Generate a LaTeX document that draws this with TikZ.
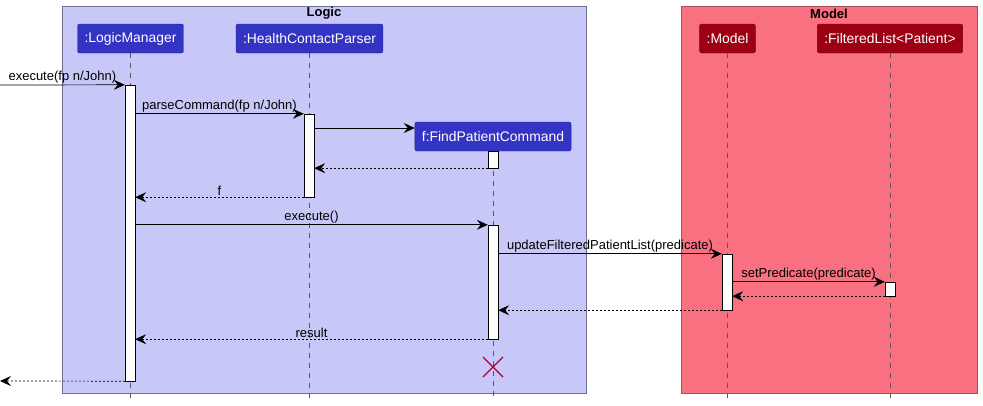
\documentclass[tikz,border=0pt]{standalone}
\usepackage{fontspec}
\setmainfont{Liberation Sans}
\usetikzlibrary{arrows.meta}

\definecolor{logicbg}{HTML}{C8C8F8}
\definecolor{logicline}{HTML}{6E6E8E}
\definecolor{modelbg}{HTML}{F97181}
\definecolor{modelline}{HTML}{A84E5A}
\definecolor{partblue}{HTML}{3333C4}
\definecolor{partred}{HTML}{9D0012}
\definecolor{crossred}{HTML}{A80036}

\tikzset{
    part/.style={rectangle, rounded corners=2pt, text=white, inner xsep=7pt,
        minimum height=29pt, font=\fontsize{13.9}{15}\selectfont},
    logicpart/.style={part, fill=partblue, draw=partblue!80!black},
    modelpart/.style={part, fill=partred, draw=partred!80!black},
    act/.style={rectangle, draw=black, fill=white, minimum width=10pt, inner sep=0pt},
    lifeline/.style={gray!70!black, dash pattern=on 5pt off 5pt},
    msg/.style={-{Stealth[length=11pt, width=10pt, inset=4pt]}, line width=0.7pt},
    ret/.style={msg, dash pattern=on 2pt off 2pt},
    lbl/.style={above, inner sep=1.5pt, font=\fontsize{13}{14}\selectfont}
}

\begin{document}
\begin{tikzpicture}[x=1pt, y=-1pt]
    \useasboundingbox (0, 0) rectangle (983, 405);

    % boxes
    \filldraw[fill=logicbg, draw=logicline] (62, 6) rectangle (586, 393);
    \filldraw[fill=modelbg, draw=modelline] (681, 6) rectangle (977, 393);
    \node[font=\bfseries\fontsize{13}{14}\selectfont] (logictitle) at (324, 13.5) {Logic};
    \node[font=\bfseries\fontsize{13}{14}\selectfont] (modeltitle) at (829, 13.5) {Model};

    % participants
    \node[logicpart] (lm) at (130.5, 38.5) {:LogicManager};
    \node[logicpart] (hcp) at (309.5, 38.5) {:HealthContactParser};
    \node[logicpart] (fpc) at (493, 136.5) {f:FindPatientCommand};
    \node[modelpart] (m) at (727.5, 38.5) {:Model};
    \node[modelpart] (fl) at (890, 38.5) {:FilteredList<Patient>};

    % lifelines
    \draw[lifeline] (lm.south) -- (lm.south |- 0, 400);
    \draw[lifeline] (hcp.south) -- (hcp.south |- 0, 400);
    \draw[lifeline] (fpc.south) -- (fpc.south |- 0, 400);
    \draw[lifeline] (m.south) -- (m.south |- 0, 400);
    \draw[lifeline] (fl.south) -- (fl.south |- 0, 400);

    % activations
    \node[act, minimum height=296pt] (actlm) at (130, 233) {};
    \node[act, minimum height=83pt] (acthcp) at (309, 155.5) {};
    \node[act, minimum height=17pt] (actfpca) at (493, 159.5) {};
    \node[act, minimum height=114pt] (actfpcb) at (493, 282) {};
    \node[act, minimum height=56pt] (actm) at (727, 282) {};
    \node[act, minimum height=14pt] (actfl) at (890, 289) {};

    \coordinate (in) at (0, 85);
    \coordinate (out) at (0, 381);

    % messages
    \draw[msg] (in) -- (actlm.north west) node[lbl, midway] {execute(fp n/John)};
    \draw[msg] (actlm.east |- acthcp.north) -- (acthcp.north west)
        node[lbl, midway] {parseCommand(fp n/John)};
    \draw[msg] (acthcp.east |- 0, 128) -- (fpc.west |- 0, 128);
    \draw[ret] (actfpca.south west) -- (acthcp.east |- actfpca.south);
    \draw[ret] (acthcp.south west) -- (actlm.east |- acthcp.south) node[lbl, midway] {f};
    \draw[msg] (actlm.east |- actfpcb.north) -- (actfpcb.north west) node[lbl, midway] {execute()};
    \draw[msg] (actfpcb.east |- actm.north) -- (actm.north west)
        node[lbl, midway] {updateFilteredPatientList(predicate)};
    \draw[msg] (actm.east |- actfl.north) -- (actfl.north west)
        node[lbl, midway] {setPredicate(predicate)};
    \draw[ret] (actfl.south west) -- (actm.east |- actfl.south);
    \draw[ret] (actm.south west) -- (actfpcb.east |- actm.south);
    \draw[ret] (actfpcb.south west) -- (actlm.east |- actfpcb.south) node[lbl, midway] {result};
    \draw[ret] (actlm.south west) -- (out);

    % destroy
    \draw[crossred, line width=1.3pt] (483, 357) -- (503, 377)
                                      (483, 377) -- (503, 357);
\end{tikzpicture}
\end{document}
